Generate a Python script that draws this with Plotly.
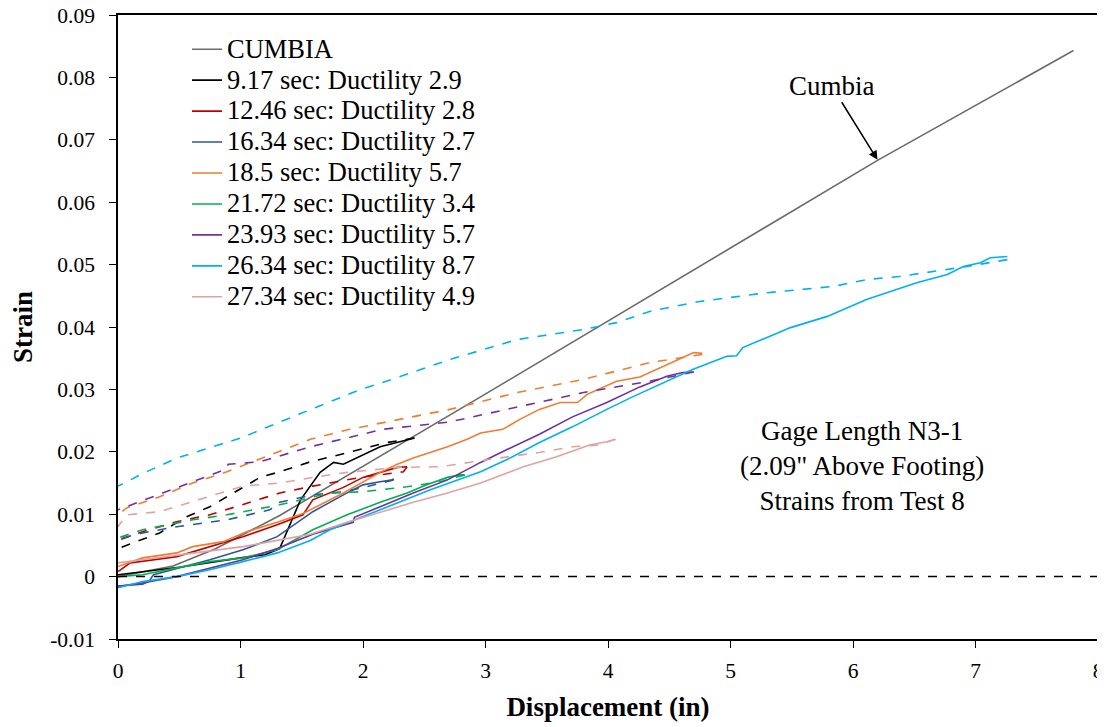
import plotly.graph_objects as go

# displacement (in) / strain pairs
cumbia_x = [0, 0.45, 0.8, 1.32, 2.96, 6.2, 7.8]
cumbia_y = [0, 0.0017, 0.0045, 0.0098, 0.0288, 0.0667, 0.0843]

# each test: loading branch (solid) and return branch (dashed)
t917_up_x = [0, 0.5, 1.0, 1.2, 1.32, 1.49, 1.65, 1.76, 1.84, 1.95, 2.14, 2.30, 2.42]
t917_up_y = [0.0003, 0.0015, 0.003, 0.0035, 0.0045, 0.0123, 0.0167, 0.0183, 0.018, 0.019, 0.0208, 0.0216, 0.0222]
t917_dn_x = [2.42, 2.2, 1.8, 1.57, 1.32, 1.16, 0.75, 0.56, 0.34, 0.02, 0]
t917_dn_y = [0.0222, 0.0215, 0.0195, 0.0184, 0.0168, 0.0159, 0.0112, 0.0096, 0.007, 0.0046, 0.0045]

t1246_up_x = [0, 0.1, 0.48, 0.75, 1.02, 1.3, 1.51, 1.59, 1.84, 2.0, 2.16, 2.28, 2.36]
t1246_up_y = [0.0008, 0.0022, 0.0032, 0.0048, 0.0064, 0.0083, 0.0099, 0.0123, 0.0143, 0.0159, 0.0168, 0.0175, 0.0176]
t1246_dn_x = [2.36, 2.33, 1.98, 1.59, 1.32, 1.08, 0.75, 0.48, 0.2, 0]
t1246_dn_y = [0.0176, 0.0168, 0.0159, 0.0145, 0.0134, 0.0119, 0.0099, 0.0088, 0.0072, 0.0058]

t1634_up_x = [0, 0.2, 0.25, 0.29, 0.75, 1.02, 1.3, 1.59, 1.84, 2.0, 2.14, 2.24, 2.25]
t1634_up_y = [-0.0015, -0.0012, -0.0008, 0.0003, 0.0027, 0.0043, 0.0064, 0.0104, 0.0131, 0.0147, 0.0152, 0.0155, 0.0157]
t1634_dn_x = [2.25, 2.03, 1.84, 1.59, 1.32, 1.24, 0.89, 0.48, 0.2, 0]
t1634_dn_y = [0.0155, 0.0144, 0.0136, 0.0131, 0.0119, 0.0107, 0.0091, 0.008, 0.007, 0.006]

t185_up_x = [0, 0.2, 0.48, 0.61, 0.86, 1.05, 1.3, 1.51, 1.84, 2.14, 2.28, 2.41, 2.69, 2.85,
             2.96, 3.14, 3.28, 3.44, 3.61, 3.75, 3.83, 4.07, 4.26, 4.61, 4.7, 4.77]
t185_up_y = [0.0016, 0.003, 0.0038, 0.0048, 0.0056, 0.0072, 0.0087, 0.0101, 0.0134, 0.0167, 0.018, 0.019, 0.0208, 0.022,
             0.023, 0.0236, 0.0252, 0.0268, 0.0279, 0.0279, 0.0292, 0.0313, 0.032, 0.0351, 0.0359, 0.0358]
t185_dn_x = [4.77, 4.34, 3.8, 3.26, 2.71, 2.16, 1.89, 1.57, 1.16, 0.89, 0.61, 0.34, 0.07, 0]
t185_dn_y = [0.0356, 0.0343, 0.0316, 0.0295, 0.0268, 0.0247, 0.0236, 0.022, 0.0188, 0.0168, 0.015, 0.0128, 0.011, 0.0099]

t2172_up_x = [0, 0.2, 0.48, 0.75, 1.02, 1.3, 1.59, 1.87, 2.14, 2.36, 2.52, 2.69, 2.79, 2.83]
t2172_up_y = [0.0, 0.0003, 0.0014, 0.0024, 0.003, 0.0043, 0.0075, 0.0099, 0.0119, 0.0134, 0.0147, 0.0159, 0.0163, 0.0163]
t2172_dn_x = [2.83, 2.63, 2.36, 2.0, 1.73, 1.32, 0.89, 0.61, 0.2, 0]
t2172_dn_y = [0.0163, 0.0152, 0.0144, 0.0136, 0.0134, 0.0115, 0.0099, 0.0091, 0.0075, 0.0062]

t2393_up_x = [0, 0.2, 0.48, 0.75, 1.02, 1.3, 1.59, 1.92, 1.93, 2.14, 2.41, 2.69, 2.96,
              3.18, 3.44, 3.71, 3.99, 4.26, 4.48, 4.61, 4.7]
t2393_up_y = [-0.0016, -0.001, 0.0, 0.0014, 0.0027, 0.0045, 0.0068, 0.0087, 0.0095, 0.0112, 0.0134, 0.0155, 0.0183,
              0.0204, 0.0228, 0.0256, 0.0279, 0.0304, 0.0321, 0.0327, 0.0328]
t2393_dn_x = [4.7, 4.34, 3.8, 3.26, 2.71, 2.16, 1.57, 1.16, 0.9, 0.88, 0.61, 0.34, 0]
t2393_dn_y = [0.0328, 0.0313, 0.0295, 0.0272, 0.0248, 0.0236, 0.0208, 0.0184, 0.018, 0.0172, 0.0152, 0.0131, 0.0107]

t2634_up_x = [0, 0.2, 0.48, 0.75, 1.02, 1.3, 1.57, 1.73, 2.14, 2.55, 2.96, 3.18, 3.44, 3.71, 3.99,
              4.2, 4.69, 4.97, 5.05, 5.1, 5.49, 5.79, 6.11, 6.52, 6.77, 6.9, 7.04, 7.12, 7.26]
t2634_up_y = [-0.0018, -0.0008, 0.0, 0.0011, 0.0024, 0.0038, 0.0058, 0.0075, 0.0107, 0.0139, 0.0168, 0.0188, 0.0215, 0.024, 0.0268,
              0.0288, 0.0332, 0.0353, 0.0354, 0.0367, 0.0399, 0.0417, 0.0444, 0.0471, 0.0484, 0.0497, 0.0503, 0.0511, 0.0513]
t2634_dn_x = [7.26, 6.93, 6.38, 6.11, 5.84, 5.3, 4.75, 4.34, 4.07, 3.8, 3.26, 2.71, 2.16, 1.98, 1.5, 1.0, 0.48, 0.2, 0]
t2634_dn_y = [0.0508, 0.0497, 0.0481, 0.0476, 0.0465, 0.0455, 0.0441, 0.0425, 0.0407, 0.0396, 0.038, 0.0348, 0.0311, 0.030, 0.0262, 0.0222, 0.019, 0.0165, 0.0145]

t2734_up_x = [0, 0.2, 0.61, 1.02, 1.3, 1.57, 1.87, 2.14, 2.41, 2.69, 2.96, 3.31, 3.58, 3.85, 3.99, 4.06]
t2734_up_y = [0.0022, 0.0027, 0.0038, 0.0048, 0.0058, 0.0068, 0.0087, 0.0103, 0.0119, 0.0134, 0.015, 0.0176, 0.0192, 0.0211, 0.0216, 0.022]
t2734_dn_x = [4.06, 3.93, 3.71, 3.44, 3.04, 2.63, 2.28, 1.87, 1.59, 1.32, 1.02, 0.61, 0.34, 0.07, 0]
t2734_dn_y = [0.022, 0.0211, 0.0208, 0.0199, 0.0188, 0.0176, 0.0175, 0.0167, 0.0159, 0.015, 0.0145, 0.012, 0.0104, 0.0099, 0.008]

series = [
    ("9.17 sec: Ductility 2.9", "#000000", t917_up_x, t917_up_y, t917_dn_x, t917_dn_y),
    ("12.46 sec: Ductility 2.8", "#c00000", t1246_up_x, t1246_up_y, t1246_dn_x, t1246_dn_y),
    ("16.34 sec: Ductility 2.7", "#2f5597", t1634_up_x, t1634_up_y, t1634_dn_x, t1634_dn_y),
    ("18.5 sec: Ductility 5.7", "#ed7d31", t185_up_x, t185_up_y, t185_dn_x, t185_dn_y),
    ("21.72 sec: Ductility 3.4", "#00b050", t2172_up_x, t2172_up_y, t2172_dn_x, t2172_dn_y),
    ("23.93 sec: Ductility 5.7", "#7030a0", t2393_up_x, t2393_up_y, t2393_dn_x, t2393_dn_y),
    ("26.34 sec: Ductility 8.7", "#00b0f0", t2634_up_x, t2634_up_y, t2634_dn_x, t2634_dn_y),
    ("27.34 sec: Ductility 4.9", "#e0a3a3", t2734_up_x, t2734_up_y, t2734_dn_x, t2734_dn_y),
]

y_ticks = [-0.01, 0, 0.01, 0.02, 0.03, 0.04, 0.05, 0.06, 0.07, 0.08, 0.09]
y_labels = ["-0.01", "0", "0.01", "0.02", "0.03", "0.04", "0.05", "0.06", "0.07", "0.08", "0.09"]

FONT = "Liberation Serif"


def big(label):
    # legend rows stay tight (small legend font) while the label itself is drawn larger
    return f'<span style="font-size:26.5px">{label}</span>'


fig = go.Figure()
fig.add_trace(go.Scatter(x=cumbia_x, y=cumbia_y, mode="lines", name=big("CUMBIA"),
                         line=dict(color="#6b6b6b", width=1.6)))
for name, color, ux, uy, dx, dy in series:
    fig.add_trace(go.Scatter(x=ux, y=uy, mode="lines", name=big(name), legendgroup=name,
                             line=dict(color=color, width=1.6)))
    fig.add_trace(go.Scatter(x=dx, y=dy, mode="lines", name=name, legendgroup=name,
                             showlegend=False, line=dict(color=color, width=1.6, dash="dash")))

fig.add_hline(y=0, line=dict(color="black", width=1.5, dash="dash"))

fig.add_annotation(x=6.2, y=0.0668, text="Cumbia", showarrow=True, arrowhead=2,
                   arrowsize=1.2, arrowwidth=1.5, arrowcolor="black", ax=-46, ay=-74,
                   font=dict(family=FONT, size=27, color="black"))
fig.add_annotation(x=6.07, y=0.0177, showarrow=False, align="center",
                   text="Gage Length N3-1<br>(2.09\" Above Footing)<br>Strains from Test 8",
                   font=dict(family=FONT, size=27, color="black"))

# the page body adds ~8px around the figure, so size/margins are trimmed to match
fig.update_layout(
    width=1097, height=719,
    margin=dict(l=110, r=7, t=7, b=88),
    plot_bgcolor="white", paper_bgcolor="white",
    font=dict(family=FONT, size=21.5, color="black"),
    showlegend=True,
    legend=dict(x=0.0704, y=0.978, xanchor="left", yanchor="top", bgcolor="rgba(0,0,0,0)",
                font=dict(family=FONT, size=21.5), tracegroupgap=0),
    xaxis=dict(range=[0, 8], dtick=1, tick0=0, showgrid=False, zeroline=False, automargin=False,
               showline=True, linecolor="black", linewidth=1.5, mirror=True,
               ticks="outside", ticklen=7, tickcolor="black", ticklabelstandoff=4,
               ticklabeloverflow="allow",
               title=dict(text="<b>Displacement (in)</b>", font=dict(family=FONT, size=27), standoff=16)),
    yaxis=dict(range=[-0.01, 0.09], tickvals=y_ticks, ticktext=y_labels, showgrid=False, zeroline=False,
               automargin=False,
               showline=True, linecolor="black", linewidth=1.5, mirror=True,
               ticks="outside", ticklen=7, tickcolor="black", ticklabelstandoff=10,
               ticklabeloverflow="allow",
               title=dict(text="<b>Strain</b>", font=dict(family=FONT, size=27), standoff=28)),
)

fig.write_html("out.html")
